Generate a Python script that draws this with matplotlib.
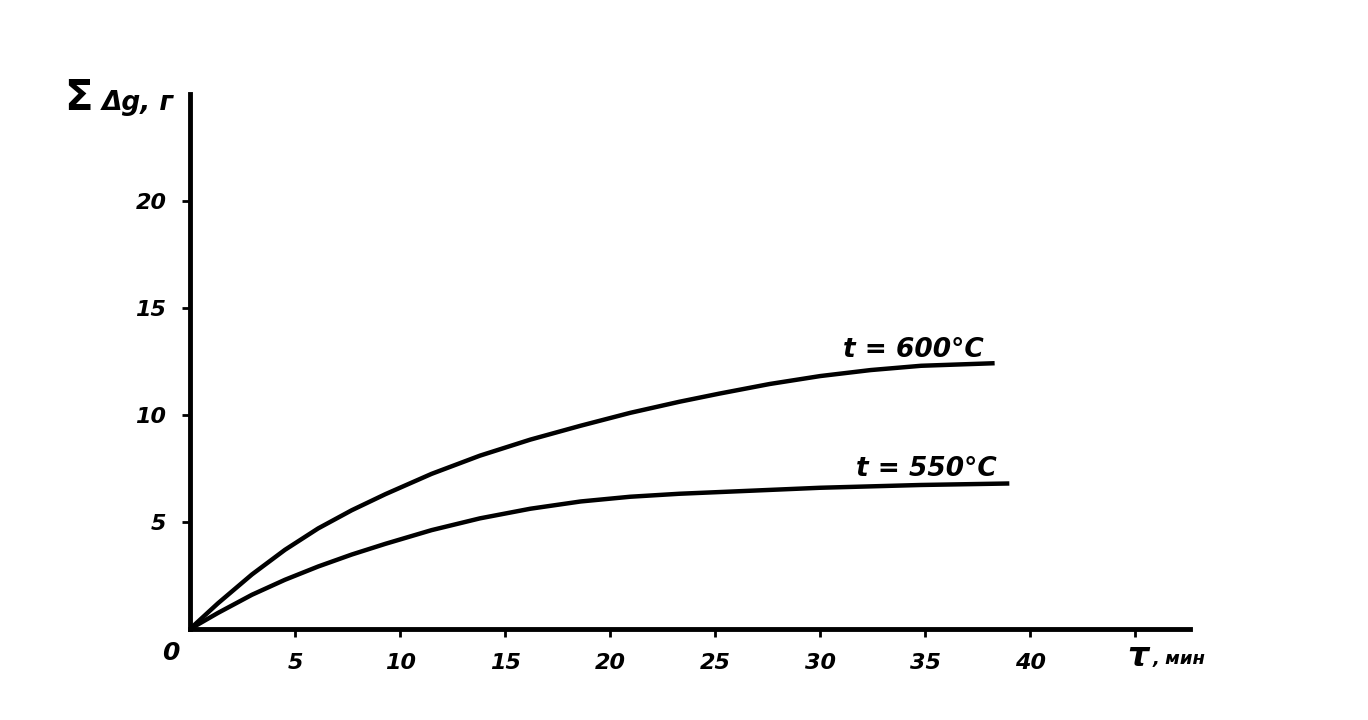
"""Weight gain vs time at two temperatures (scanned figure redraw)."""

import matplotlib
matplotlib.use("Agg")
import matplotlib.pyplot as plt
from matplotlib import font_manager

# time, min / summed weight gain, g
t_600 = [0, 1.33, 2.95, 4.52, 6.1, 7.7, 9.3, 11.5, 13.8, 16.2, 18.6, 20.95,
         23.3, 25.2, 27.6, 30, 32.4, 34.8, 38.3]
g_600 = [0, 1.2, 2.55, 3.7, 4.7, 5.55, 6.3, 7.25, 8.1, 8.85, 9.5, 10.1,
         10.62, 11.0, 11.45, 11.82, 12.1, 12.3, 12.42]

t_550 = [0, 1.33, 2.95, 4.52, 6.1, 7.7, 9.3, 11.5, 13.8, 16.2, 18.6, 20.95,
         23.3, 25.7, 30, 34.8, 39]
g_550 = [0, 0.75, 1.6, 2.3, 2.92, 3.48, 3.98, 4.62, 5.17, 5.62, 5.96, 6.18,
         6.32, 6.42, 6.6, 6.73, 6.8]

x_ticks = [5, 10, 15, 20, 25, 30, 35, 40, 45]
x_labels = ["5", "10", "15", "20", "25", "30", "35", "40", ""]
y_ticks = [5, 10, 15, 20]
y_labels = ["5", "10", "15", "20"]

names = {f.name for f in font_manager.fontManager.ttflist}
NARROW = "Liberation Sans Narrow" if "Liberation Sans Narrow" in names else "DejaVu Sans"
plt.rcParams["font.family"] = [NARROW, "DejaVu Sans"]

fig = plt.figure(figsize=(13.68, 7.2), dpi=100)
ax = fig.add_axes([190 / 1368, 91 / 720, 1000 / 1368, 535 / 720])
ax.set_xlim(0, 47.6)
ax.set_ylim(0, 25)

for s in ("top", "right"):
    ax.spines[s].set_visible(False)
for s in ("left", "bottom"):
    ax.spines[s].set_linewidth(3.5)
    ax.spines[s].set_color("black")

ax.plot(t_600, g_600, color="black", lw=3.2, solid_capstyle="butt",
        solid_joinstyle="round")
ax.plot(t_550, g_550, color="black", lw=3.2, solid_capstyle="butt",
        solid_joinstyle="round")

tick_font = dict(fontsize=16, fontweight="bold", fontstyle="italic")
ax.set_xticks(x_ticks)
ax.set_xticklabels(x_labels, **tick_font)
ax.set_yticks(y_ticks)
ax.set_yticklabels(y_labels, **tick_font)
ax.tick_params(direction="out", length=6, width=2, pad=11, color="black")

ax.text(-0.5, -1.1, "0", ha="right", va="center", clip_on=False,
        fontsize=18, fontweight="bold", fontstyle="italic")

# curve labels
ax.text(31.1, 12.45, "t = 600°C", ha="left", va="bottom", fontsize=19,
        fontweight="bold", fontstyle="italic")
ax.text(31.7, 6.85, "t = 550°C", ha="left", va="bottom", fontsize=19,
        fontweight="bold", fontstyle="italic")

# axis titles
fig.text(64 / 1368, 1 - 110 / 720, "Σ", fontsize=30, fontweight="bold",
         ha="left", va="baseline")
fig.text(102 / 1368, 1 - 110 / 720, "Δg, г", fontsize=19, fontweight="bold",
         fontstyle="italic", ha="left", va="baseline")
ax.text(44.6, -1.3, "τ", ha="left", va="center", clip_on=False, fontsize=24,
        fontweight="bold", fontstyle="italic")
ax.text(45.8, -1.4, ", мин", ha="left", va="center", clip_on=False, fontsize=13,
        fontweight="bold", fontstyle="italic")

fig.savefig("out.png", dpi=100, facecolor="white")
